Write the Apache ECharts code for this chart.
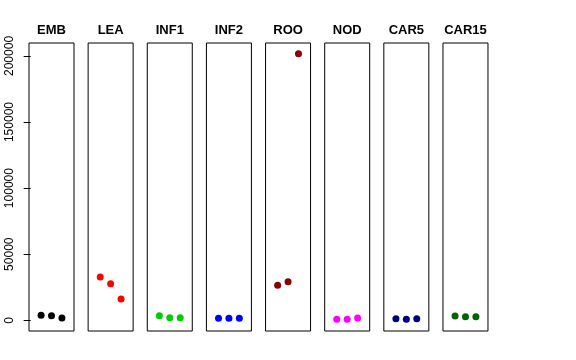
<!DOCTYPE html>
<html>
<head>
<meta charset="utf-8">
<script src="https://cdn.jsdelivr.net/npm/echarts@6/dist/echarts.min.js"></script>
<style>html,body{margin:0;padding:0;background:#fff}#c{width:576px;height:360px}</style>
</head>
<body>
<div id="c"></div>
<script>
const categories = ['EMB', 'LEA', 'INF1', 'INF2', 'ROO', 'NOD', 'CAR5', 'CAR15'];
const EMB = [3780, 3480, 1740];
const LEA = [32750, 27700, 16100];
const INF1 = [3480, 1970, 1970];
const INF2 = [1500, 1500, 1550];
const ROO = [26500, 29200, 201700];
const NOD = [760, 760, 1740];
const CAR5 = [1210, 760, 1210];
const CAR15 = [3250, 2720, 2720];
const yTicks = [0, 50000, 100000, 150000, 200000];
const panelValues = [EMB, LEA, INF1, INF2, ROO, NOD, CAR5, CAR15];
const colors = ['#000000', '#FF0000', '#00CD00', '#0000FF', '#8B0000', '#FF00FF', '#000080', '#006400'];

const font = "'Liberation Sans', Arial, Helvetica, sans-serif";
const yMin = -8100, yMax = 209800;
const grids = [], xAxes = [], yAxes = [], series = [];
categories.forEach((cat, i) => {
  grids.push({
    left: 29 + i * 59.14, width: 45, top: 43, height: 288,
    show: true, borderColor: '#000', borderWidth: 1, backgroundColor: 'transparent'
  });
  xAxes.push({
    gridIndex: i, type: 'value', min: -0.16, max: 4.16, position: 'top',
    name: cat, nameLocation: 'middle', nameGap: 6,
    nameTextStyle: { fontFamily: font, fontSize: 13, fontWeight: 'bold', color: '#000' },
    axisLine: { show: false }, axisTick: { show: false }, axisLabel: { show: false }, splitLine: { show: false }
  });
  const first = i === 0;
  yAxes.push({
    gridIndex: i, type: 'value', min: yMin, max: yMax,
    axisLine: { show: false },
    axisTick: { show: first, length: 7, customValues: yTicks, lineStyle: { color: '#000' } },
    axisLabel: { show: first, customValues: yTicks, rotate: 90, margin: 13, fontFamily: font, fontSize: 12, color: '#000',
      formatter: v => String(v) },
    splitLine: { show: false }
  });
  series.push({
    type: 'scatter', xAxisIndex: i, yAxisIndex: i, symbol: 'circle', symbolSize: 7,
    itemStyle: { color: colors[i], opacity: 1 }, silent: true,
    data: panelValues[i].map((v, j) => [j + 1, v])
  });
});

const chart = echarts.init(document.getElementById('c'), null, { renderer: 'canvas' });
chart.setOption({ animation: false, grid: grids, xAxis: xAxes, yAxis: yAxes, series: series });
</script>
</body>
</html>
